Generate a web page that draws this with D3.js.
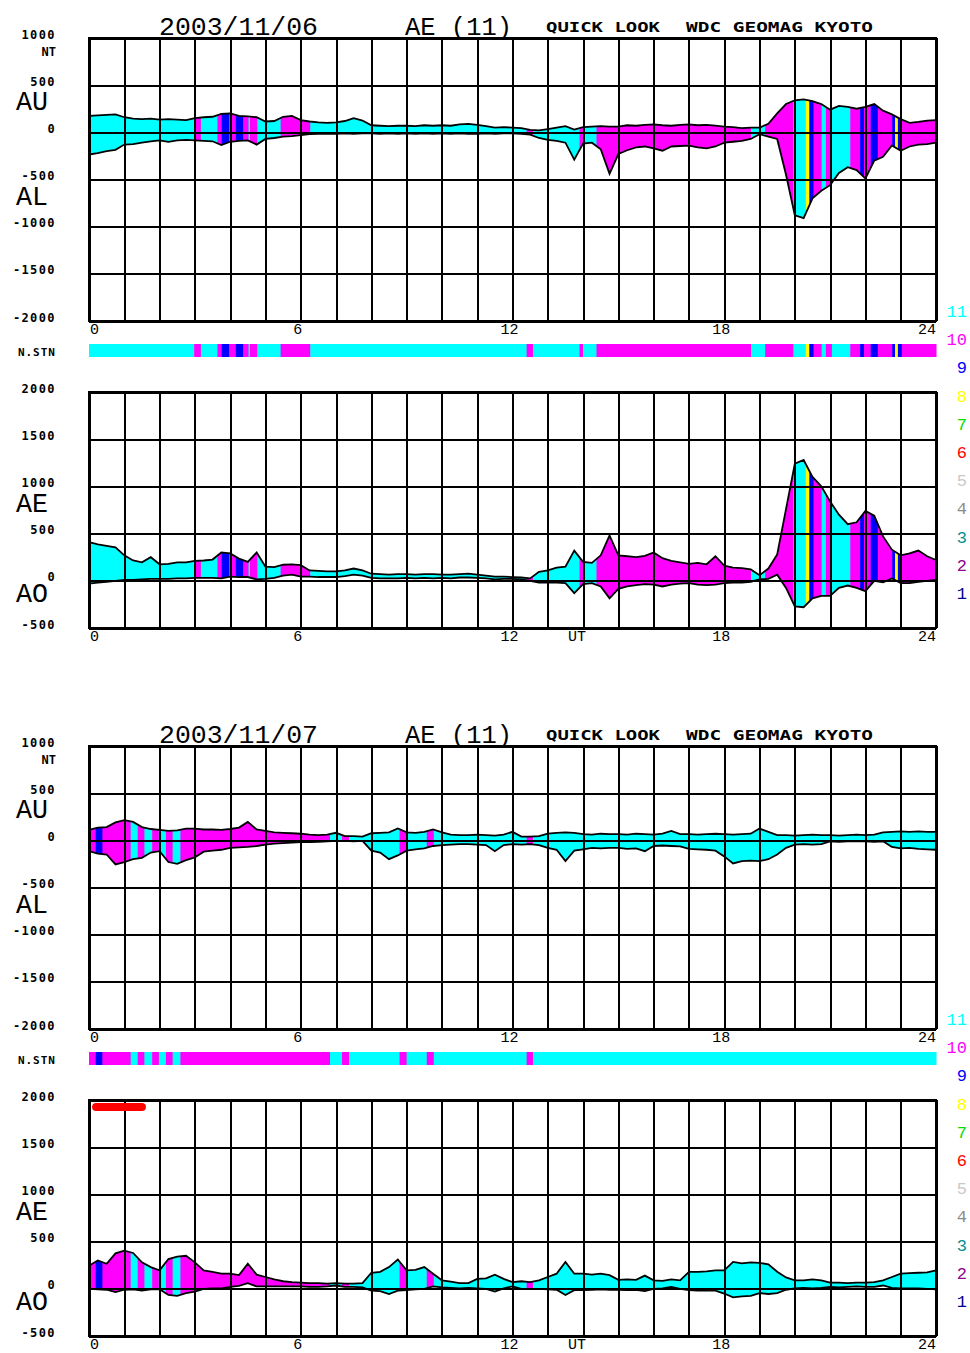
<!DOCTYPE html>
<html>
<head>
<meta charset="utf-8">
<script src="https://cdn.jsdelivr.net/npm/d3@7"></script>
<style>
  body { margin: 0; background: #fff; }
  svg { display: block; }
</style>
</head>
<body>
<div id="chart"></div>
<script>
// ---- data (15 minute steps) ----
const hours = d3.range(0, 24.001, 0.25);
const dayLabels = ["2003/11/06", "2003/11/07"];
const topTicks = [1000, 500, 0, -500, -1000, -1500, -2000];
const bottomTicks = [2000, 1500, 1000, 500, 0, -500];
const hourTicks = [0, 6, 12, 18, 24];
const stationLevels = [11, 10, 9, 8, 7, 6, 5, 4, 3, 2, 1];

const au1 = [
  175,180,185,190, 160,145,140,145, 135,140,135,130, 150,160,165,195,
  200,175,170,160, 115,120,165,175, 130,115,105,100, 105,120,150,125,
  75,70,65,70, 70,65,75,70, 75,70,85,90, 80,65,50,55,
  50,45,25,20, 35,50,65,30, 55,60,65,60, 60,75,70,80,
  85,75,70,80, 85,75,80,70, 60,55,45,50, 50,90,200,300,
  340,350,330,300, 240,280,270,250, 270,300,230,190, 140,100,110,125,
  130];
const al1 = [
  -235,-220,-200,-185, -130,-125,-110,-95, -85,-100,-85,-80, -85,-90,-95,-135,
  -100,-90,-85,-130, -70,-60,-45,-40, -30,-20,-15,-15, -15,-10,-15,-10,
  -10,-15,-10,-15, -10,-15,-10,-15, -10,-15,-10,-15, -15,-10,-15,-10,
  -10,-15,-25,-60, -80,-90,-110,-290, -120,-110,-180,-440, -230,-190,-160,-150,
  -170,-195,-150,-145, -140,-160,-170,-150, -110,-100,-90,-70, -20,-45,-70,-450,
  -880,-910,-700,-620, -560,-430,-370,-400, -490,-300,-260,-140, -195,-150,-130,-125,
  -110];
const ae1 = [
  410,385,370,355, 270,215,195,250, 175,180,195,195, 210,215,225,300,
  290,235,200,300, 150,145,170,175, 165,110,105,100, 100,110,130,110,
  75,70,65,70, 70,65,70,70, 65,65,70,75, 65,55,45,45,
  40,35,25,95, 110,140,150,320, 200,190,270,480, 270,260,250,265,
  300,240,210,195, 180,190,175,260, 160,140,135,120, 60,130,280,760,
  1240,1280,1100,1000, 840,700,600,620, 740,690,470,330, 270,290,320,260,
  220];
const ao1 = [
  -30,-20,-10,0, 10,10,15,20, 20,20,25,25, 30,30,30,25,
  45,40,40,15, 20,30,55,65, 45,45,40,40, 40,50,65,55,
  30,25,25,25, 30,25,30,25, 30,25,35,35, 30,25,15,20,
  20,15,0,-20, -20,-20,-25,-130, -35,-25,-60,-185, -85,-60,-45,-35,
  -40,-60,-40,-30, -25,-40,-45,-40, -25,-20,-20,-10, 15,20,65,-75,
  -270,-280,-185,-160, -160,-75,-50,-75, -110,0,-15,25, -25,-25,-10,0,
  10];

const au2 = [
  110,135,140,190, 215,195,140,120, 110,100,105,125, 125,115,115,110,
  120,135,195,115, 100,85,80,75, 70,60,55,60, 80,45,45,40,
  75,80,85,125, 85,80,90,115, 85,60,55,55, 60,55,50,60,
  90,40,40,45, 70,80,85,80, 65,60,70,65, 65,60,70,65,
  60,70,100,65, 65,60,65,70, 65,60,65,70, 125,90,55,55,
  50,55,60,55, 55,50,55,60, 55,60,85,90, 95,90,95,90,
  90];
const al2 = [
  -115,-140,-150,-255, -230,-200,-185,-130, -115,-230,-250,-210, -180,-120,-110,-100,
  -80,-75,-70,-60, -45,-35,-30,-25, -20,-20,-15,-10, -5,-5,-10,-5,
  -110,-130,-200,-160, -110,-95,-85,-60, -50,-45,-40,-40, -45,-50,-115,-50,
  -40,-45,-40,-50, -80,-100,-220,-110, -95,-80,-85,-80, -80,-90,-85,-115,
  -60,-55,-60,-65, -90,-95,-100,-110, -170,-245,-220,-215, -220,-200,-150,-80,
  -45,-40,-45,-40, -10,-15,-10,-10, -10,-15,-10,-70, -85,-80,-90,-95,
  -100];
const ae2 = [
  245,300,265,375, 405,380,280,230, 195,315,340,350, 280,195,180,160,
  160,145,265,150, 125,100,80,70, 65,60,60,55, 60,55,55,60,
  170,180,230,310, 195,200,230,160, 90,75,60,60, 105,110,150,105,
  70,80,70,90, 125,160,285,160, 160,150,160,145, 95,100,95,140,
  90,85,100,90, 180,180,185,195, 195,285,270,280, 275,260,180,120,
  90,90,100,90, 65,65,60,65, 65,70,90,125, 160,165,170,175,
  195];
const ao2 = [
  0,-5,-10,-35, -10,-5,-20,-5, -5,-65,-75,-45, -30,0,5,5,
  20,30,60,25, 25,25,25,25, 25,20,20,25, 35,20,20,15,
  -20,-25,-55,-20, -15,-5,0,25, 15,10,5,10, 5,0,-30,5,
  25,0,0,0, -5,-10,-65,-15, -15,-10,-5,-10, -10,-15,-10,-25,
  0,5,20,0, -15,-20,-20,-20, -50,-90,-80,-75, -45,-55,-45,-10,
  5,10,5,10, 20,15,20,25, 20,20,35,10, 5,5,5,0,
  -5];

// number of contributing stations: start hour of each run and the count
const stn1Start = [0, 2.98, 3.17, 3.64, 3.76, 3.97, 4.16, 4.37, 4.52, 4.56, 4.77, 5.43, 6.27,
  12.4, 12.58, 13.9, 14.0, 14.38, 18.76, 19.16, 19.96, 20.31, 20.41, 20.53, 20.76, 20.88,
  21.05, 21.57, 21.85, 21.96, 22.15, 22.35, 22.76, 22.84, 22.92, 23.03];
const stn1Count = [11, 10, 11, 10, 9, 10, 9, 10, 11, 10, 11, 10, 11,
  10, 11, 10, 11, 10, 11, 10, 11, 8, 9, 10, 11, 10,
  11, 10, 9, 10, 9, 10, 9, 8, 9, 10];
const stn2Start = [0, 0.19, 0.38, 1.18, 1.38, 1.57, 1.79, 1.98, 2.18, 2.37, 2.59,
  6.83, 7.17, 7.37, 8.8, 9.0, 9.57, 9.77, 12.4, 12.58];
const stn2Count = [10, 9, 10, 11, 10, 11, 10, 11, 10, 11, 10,
  11, 10, 11, 10, 11, 10, 11, 10, 11];

// red marker in the AE panel of the second day
const redBarHours = [0.2, 1.5];
const redBarLevel = 1925;

// ---- layout ----
const dayStep = 708;
const left = 89, right = 936;
const topPanel = { top: 38, bottom: 321 };
const botPanel = { top: 392, bottom: 628 };
const barY = 344, barH = 13;

const monoThin = "'Liberation Mono', 'DejaVu Sans Mono', monospace";
const monoBold = "'DejaVu Sans Mono', 'Liberation Mono', monospace";

const x = d3.scaleLinear().domain([0, 24]).range([left, right]);
const yU = d3.scaleLinear().domain([-2000, 1000]).range([topPanel.bottom, topPanel.top]);
const yE = d3.scaleLinear().domain([-500, 2000]).range([botPanel.bottom, botPanel.top]);

const stnColor = d3.scaleOrdinal()
  .domain(stationLevels)
  .range(["#00ffff", "#ff00ff", "#0000ff", "#ffff00", "#00e000", "#ff0000",
          "#c8c8c8", "#8c8c8c", "#009090", "#900090", "#000090"]);

const days = [
  { label: dayLabels[0], au: au1, al: al1, ae: ae1, ao: ao1, start: stn1Start, count: stn1Count, red: false },
  { label: dayLabels[1], au: au2, al: al2, ae: ae2, ao: ao2, start: stn2Start, count: stn2Count, red: true }
];

const svg = d3.select("#chart").append("svg")
  .attr("width", 970)
  .attr("height", 1353);

days.forEach(function (day, di) {
  var g = svg.append("g").attr("transform", "translate(0," + (di * dayStep) + ")");

  var rows = hours.map(function (h, i) {
    return { h: h, au: day.au[i], al: day.al[i], ae: day.ae[i], ao: day.ao[i] };
  });

  var segs = day.start.map(function (s, i) {
    return { s: s, e: i + 1 < day.start.length ? day.start[i + 1] : 24, n: day.count[i] };
  });

  // clip rects, one per station run, spanning both panels
  segs.forEach(function (sg, i) {
    g.append("clipPath").attr("id", "clip" + di + "_" + i)
      .append("rect")
      .attr("x", x(sg.s))
      .attr("width", x(sg.e) - x(sg.s) + 0.6)
      .attr("y", topPanel.top)
      .attr("height", botPanel.bottom - topPanel.top);
  });

  var areaU = d3.area()
    .x(function (d) { return x(d.h); })
    .y0(function (d) { return yU(d.al); })
    .y1(function (d) { return yU(d.au); });
  var areaE = d3.area()
    .x(function (d) { return x(d.h); })
    .y0(function (d) { return yE(d.ao); })
    .y1(function (d) { return yE(d.ae); });

  segs.forEach(function (sg, i) {
    g.append("path").datum(rows)
      .attr("d", areaU)
      .attr("fill", stnColor(sg.n))
      .attr("clip-path", "url(#clip" + di + "_" + i + ")");
    g.append("path").datum(rows)
      .attr("d", areaE)
      .attr("fill", stnColor(sg.n))
      .attr("clip-path", "url(#clip" + di + "_" + i + ")");
  });

  // grids
  [[yU, topPanel, topTicks], [yE, botPanel, bottomTicks]].forEach(function (p) {
    var y = p[0], pan = p[1], ticks = p[2];
    g.append("g")
      .attr("transform", "translate(0," + pan.bottom + ")")
      .call(d3.axisBottom(x).tickValues(d3.range(0, 25)).tickSize(-(pan.bottom - pan.top)).tickFormat(""))
      .call(function (a) { a.select(".domain").remove(); })
      .selectAll("line").attr("stroke", "#000").attr("stroke-width", 2).attr("shape-rendering", "crispEdges");
    g.append("g")
      .attr("transform", "translate(" + left + ",0)")
      .call(d3.axisLeft(y).tickValues(ticks).tickSize(-(right - left)).tickFormat(""))
      .call(function (a) { a.select(".domain").remove(); })
      .selectAll("line").attr("stroke", "#000").attr("stroke-width", 2).attr("shape-rendering", "crispEdges");
    g.append("rect")
      .attr("x", left).attr("y", pan.top)
      .attr("width", right - left).attr("height", pan.bottom - pan.top)
      .attr("fill", "none").attr("stroke", "#000").attr("stroke-width", 2)
      .attr("shape-rendering", "crispEdges");

    // value labels
    var ax = g.append("g")
      .attr("transform", "translate(" + left + ",0)")
      .call(d3.axisLeft(y).tickValues(ticks).tickSize(0).tickPadding(33).tickFormat(function (d) { return String(d); }));
    ax.select(".domain").remove();
    ax.attr("font-family", monoBold).attr("font-size", 12).attr("font-weight", "bold");
    ax.selectAll("text").attr("dy", 0).attr("fill", "#000").style("letter-spacing", "1.4px");
  });

  // outlines
  var line = function (key, y) {
    return d3.line().x(function (d) { return x(d.h); }).y(function (d) { return y(d[key]); });
  };
  [["au", yU], ["al", yU], ["ae", yE], ["ao", yE]].forEach(function (k) {
    g.append("path").datum(rows)
      .attr("d", line(k[0], k[1]))
      .attr("fill", "none")
      .attr("stroke", "#000")
      .attr("stroke-width", 1.8)
      .attr("stroke-linejoin", "miter");
  });

  // station count bar
  g.selectAll(".stn").data(segs).enter().append("rect")
    .attr("x", function (d) { return x(d.s); })
    .attr("width", function (d) { return x(d.e) - x(d.s) + 0.5; })
    .attr("y", barY).attr("height", barH)
    .attr("fill", function (d) { return stnColor(d.n); });

  g.append("text").attr("x", 56).attr("y", 356).attr("text-anchor", "end")
    .attr("font-family", monoBold).attr("font-size", 11).attr("font-weight", "bold")
    .style("letter-spacing", "1px").text("N.STN");

  // hour labels
  [topPanel, botPanel].forEach(function (pan) {
    g.selectAll(null).data(hourTicks).enter().append("text")
      .attr("x", function (d, i) { return i === 0 ? x(d) + 1 : (i === hourTicks.length - 1 ? x(d) : x(d) - 3); })
      .attr("y", pan.bottom + 13)
      .attr("text-anchor", function (d, i) { return i === 0 ? "start" : (i === hourTicks.length - 1 ? "end" : "middle"); })
      .attr("font-family", monoThin).attr("font-size", 15)
      .text(function (d) { return d; });
  });
  g.append("text").attr("x", 577).attr("y", botPanel.bottom + 13).attr("text-anchor", "middle")
    .attr("font-family", monoThin).attr("font-size", 15).text("UT");

  // big index names
  [["AU", 110], ["AL", 205], ["AE", 512], ["AO", 602]].forEach(function (t) {
    g.append("text").attr("x", 16).attr("y", t[1])
      .attr("font-family", monoThin).attr("font-size", 27)
      .attr("textLength", 32).attr("lengthAdjust", "spacingAndGlyphs")
      .text(t[0]);
  });
  g.append("text").attr("x", 56).attr("y", 56).attr("text-anchor", "end")
    .attr("font-family", monoBold).attr("font-size", 12).attr("font-weight", "bold").text("NT");

  // titles
  g.append("text").attr("x", 159).attr("y", 35)
    .attr("font-family", monoThin).attr("font-size", 26)
    .attr("textLength", 159).attr("lengthAdjust", "spacingAndGlyphs").text(day.label);
  g.append("text").attr("x", 405).attr("y", 35)
    .attr("font-family", monoThin).attr("font-size", 26)
    .attr("textLength", 107).attr("lengthAdjust", "spacingAndGlyphs").text("AE (11)");
  g.append("text").attr("x", 546).attr("y", 32)
    .attr("font-family", monoBold).attr("font-size", 14).attr("font-weight", "bold")
    .attr("textLength", 114).attr("lengthAdjust", "spacingAndGlyphs").text("QUICK LOOK");
  g.append("text").attr("x", 686).attr("y", 32)
    .attr("font-family", monoBold).attr("font-size", 14).attr("font-weight", "bold")
    .attr("textLength", 187).attr("lengthAdjust", "spacingAndGlyphs").text("WDC GEOMAG KYOTO");

  // station legend
  g.selectAll(null).data(stationLevels).enter().append("text")
    .attr("x", 967)
    .attr("y", function (d, i) { return 317 + i * 28.2; })
    .attr("text-anchor", "end")
    .attr("font-family", monoThin).attr("font-size", 17)
    .attr("fill", function (d) { return stnColor(d); })
    .text(function (d) { return d; });

  if (day.red) {
    g.append("line")
      .attr("x1", x(redBarHours[0])).attr("x2", x(redBarHours[1]))
      .attr("y1", yE(redBarLevel)).attr("y2", yE(redBarLevel))
      .attr("stroke", "#ff0000").attr("stroke-width", 8).attr("stroke-linecap", "round");
  }
});
</script>
</body>
</html>
